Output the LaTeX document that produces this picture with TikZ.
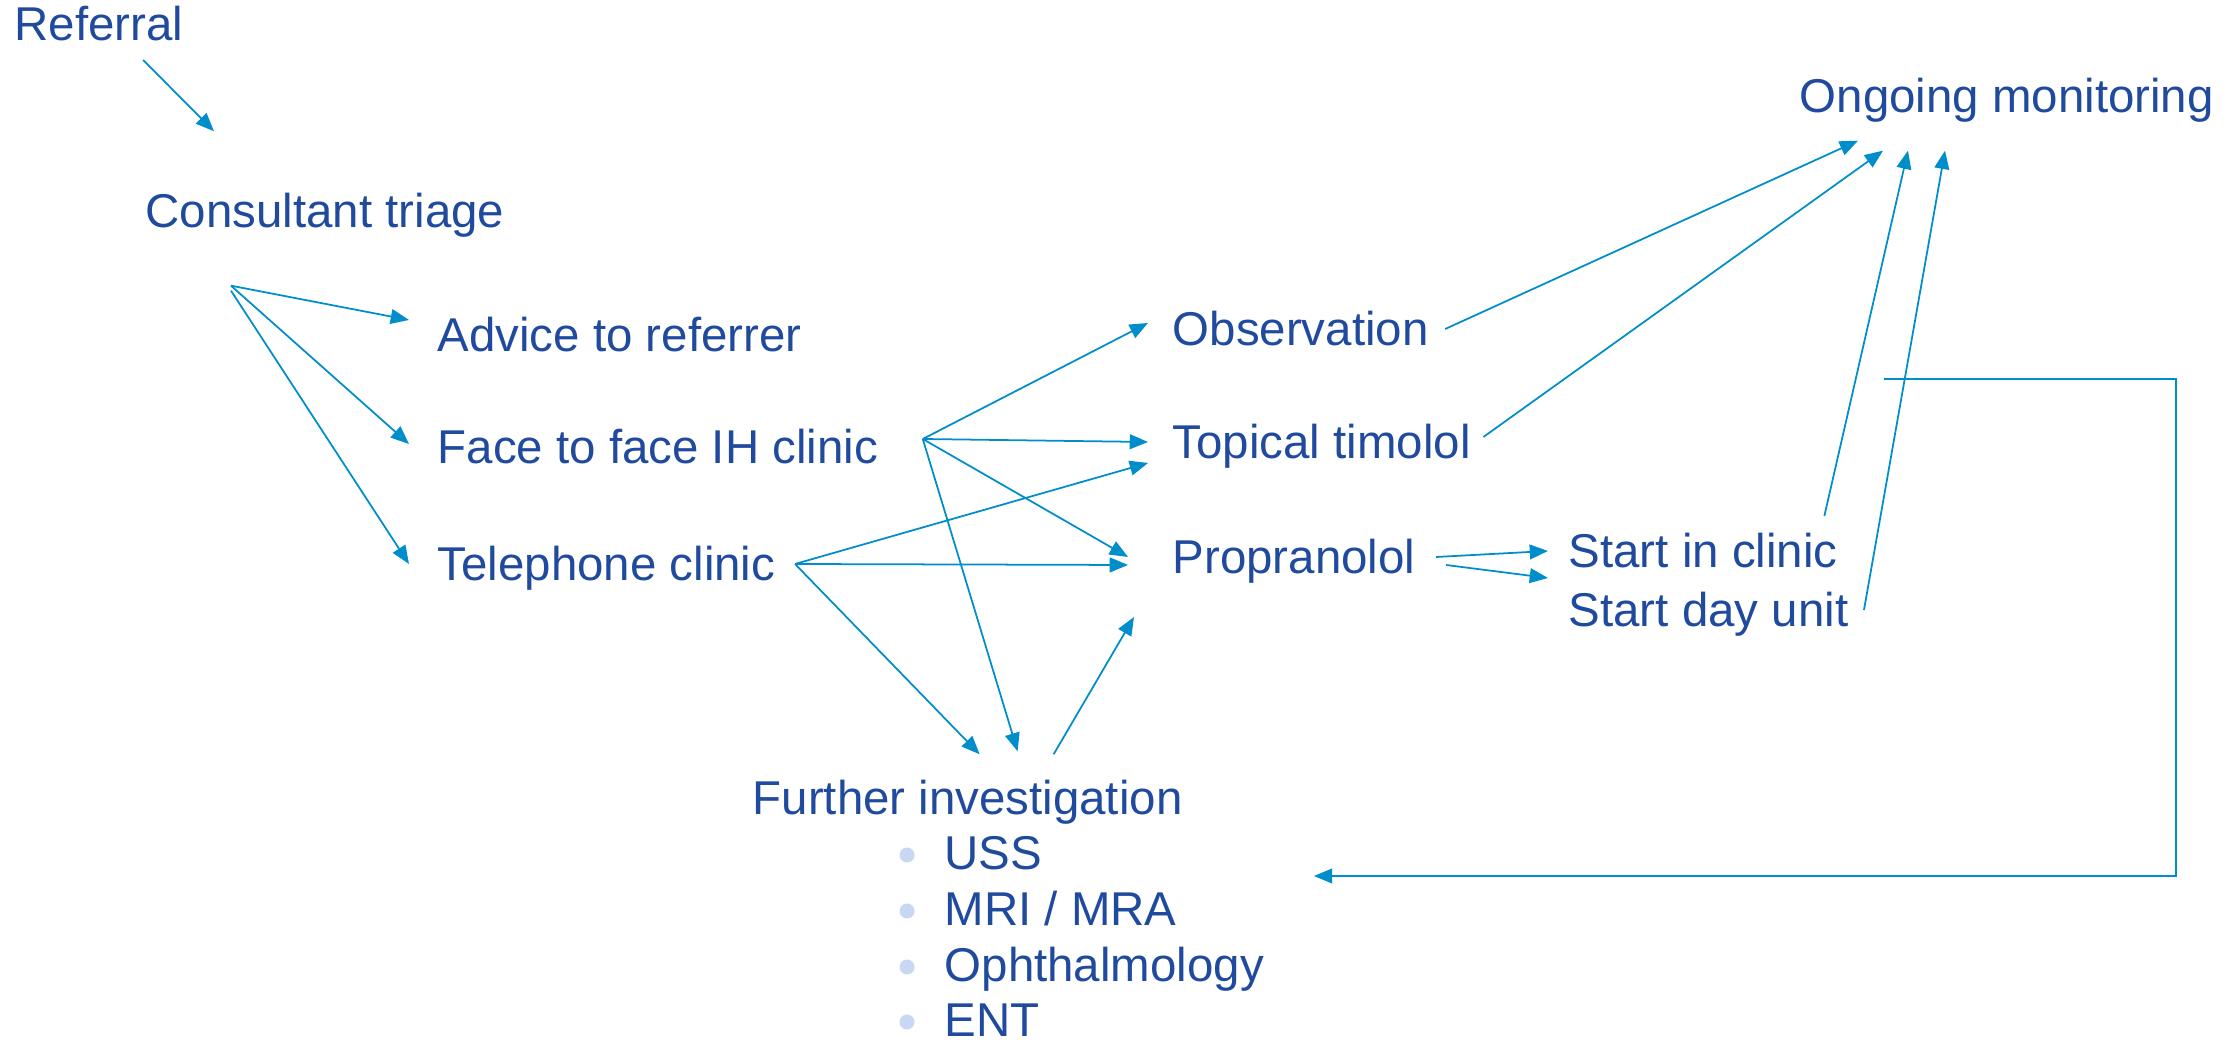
\documentclass[tikz,border=0pt]{standalone}
\usepackage{fontspec}
\setmainfont{Liberation Sans}
\usetikzlibrary{arrows.meta}

\definecolor{txtblue}{RGB}{31,74,158}
\definecolor{lnblue}{RGB}{0,142,202}
\definecolor{dotblue}{RGB}{201,216,242}

\tikzset{
    lbl/.style={anchor=base west, inner sep=0pt, text height=0.34cm, text depth=0pt,
        text=txtblue, font=\fontsize{13.5}{16}\selectfont},
    link/.style={draw=lnblue, line width=0.5pt, -{Triangle[length=5.2pt,width=4.2pt]}},
}

\begin{document}
\begin{tikzpicture}

\useasboundingbox (0,0) rectangle (22.33,10.45);

\node[lbl] (ref) at (0.14,10.04) {Referral};
\node[lbl] (tri) at (1.45,8.17) {Consultant triage};

\node[lbl] (adv) at (4.37,6.93) {Advice to referrer};
\node[lbl] (face) at (4.37,5.81) {Face to face IH clinic};
\node[lbl] (tel) at (4.37,4.64) {Telephone clinic};

\node[lbl] (obs) at (11.72,6.99) {Observation};
\node[lbl] (tim) at (11.72,5.86) {Topical timolol};
\node[lbl] (prop) at (11.72,4.71) {Propranolol};

\node[lbl] (sic) at (15.68,4.77) {Start in clinic};
\node[lbl] (sdu) at (15.68,4.18) {Start day unit};

\node[lbl] (mon) at (17.99,9.32) {Ongoing monitoring};

\node[lbl] (fur) at (7.52,2.30) {Further investigation};

% bullet list
\foreach \nm/\txt/\yb in {uss/USS/1.75, mri/{MRI / MRA}/1.19, oph/Ophthalmology/0.63, ent/ENT/0.08}
{
    \node[lbl] (\nm) at (9.44,\yb) {\txt};
    \fill[dotblue] ([shift={(-0.37,0.15)}]\nm.base west) circle (0.075);
}


% Fan points
\coordinate (tri-out) at ([shift={(0.86,-0.57)}]tri.south west);
\coordinate (face-out) at ([shift={(0.44,0.08)}]face.east);
\coordinate (tel-out) at ([shift={(0.19,0)}]tel.east);
\coordinate (fur-out) at ([shift={(0.86,0.26)}]fur.north);
\coordinate (loop-in) at (18.84,6.66);

\draw[link] ([shift={(-0.41,-0.19)}]ref.base east) -- ([shift={(0.69,0.62)}]tri.north west);

\draw[link] (tri-out) -- ([shift={(-0.28,0.15)}]adv.west);
\draw[link] (tri-out) -- ([shift={(-0.28,0.03)}]face.west);
\draw[link] ([yshift=-0.05cm]tri-out) -- ([shift={(-0.28,0)}]tel.west);

\draw[link] (face-out) -- ([shift={(-0.24,0.06)}]obs.west);
\draw[link] (face-out) -- ([shift={(-0.24,0)}]tim.west);
\draw[link] (face-out) -- ([shift={(-0.44,0)}]prop.west);
\draw[link] (face-out) -- ([shift={(0.50,0.29)}]fur.north);

\draw[link] (tel-out) -- ([shift={(-0.24,-0.21)}]tim.west);
\draw[link] (tel-out) -- ([shift={(-0.44,-0.08)}]prop.west);
\draw[link] (tel-out) -- ([shift={(0.12,0.26)}]fur.north);

\draw[link] (fur-out) -- ([shift={(-0.38,-0.60)}]prop.west);

\draw[link] ([shift={(0.20,0)}]prop.east) -- ([shift={(-0.20,0)}]sic.west);
\draw[link] ([shift={(0.30,-0.08)}]prop.east) -- ([shift={(-0.20,0.32)}]sdu.west);

% towards monitoring
\draw[link] ([shift={(0.16,0)}]obs.east) -- ([shift={(0.59,-0.27)}]mon.south west);
\draw[link] ([shift={(0.12,0.05)}]tim.east) -- ([shift={(0.84,-0.37)}]mon.south west);
\draw[link] ([shift={(-0.14,0.35)}]sic.east) -- ([shift={(1.09,-0.37)}]mon.south west);
\draw[link] ([shift={(0.15,0)}]sdu.east) -- ([shift={(1.46,-0.37)}]mon.south west);

% back to investigation
\draw[link] (loop-in) -- ++(2.92,0) |- ([shift={(2.71,-0.23)}]uss.east);

\end{tikzpicture}
\end{document}
